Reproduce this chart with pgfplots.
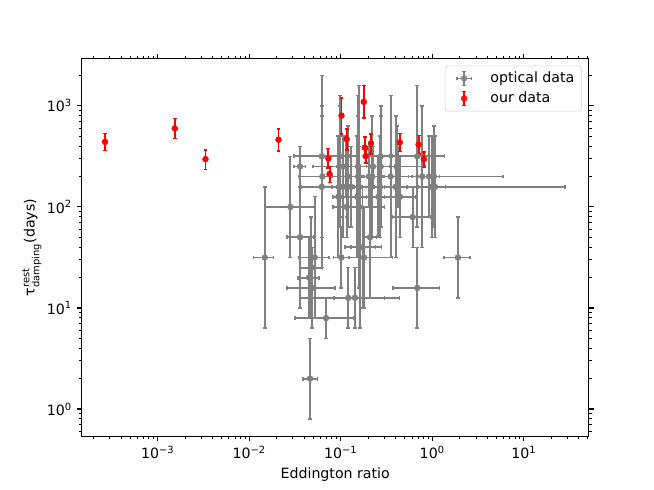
\documentclass[border=0pt]{standalone}
\usepackage{fontspec}
\setmainfont{DejaVu Sans}
\usepackage{amsmath}
\usepackage{pgfplots}
\usepackage{pgfplotstable}
\pgfplotsset{compat=1.18}
\definecolor{mplgray}{HTML}{808080}
\definecolor{mplred}{HTML}{FF0000}
\definecolor{legedge}{HTML}{CCCCCC}

\pgfplotstableread{
x y xlo xhi ylo yhi
0.0148 31.6 0.0112 0.0185 6.31 158
0.0282 100 0.0148 0.0527 31.6 316
0.036 251 0.031 0.041 158 398
0.036 50.1 0.0258 0.0503 10 251
0.045 20 0.0342 0.058 7.94 50.1
0.0478 25.1 0.036 0.063 7.94 79.4
0.052 31.6 0.035 0.0745 7.94 126
0.049 15.8 0.0258 0.0868 6.31 39.8
0.0462 2.0 0.0388 0.0557 0.794 5.01
0.0692 7.94 0.0317 0.1396 5.01 12.6
0.121 12.6 0.0845 0.436 6.31 25.1
0.143 12.6 0.0354 0.30 6.31 25.1
0.1016 31.6 0.083 0.123 15.8 63.1
0.1795 31.6 0.123 0.366 10 100
0.163 39.8 0.111 0.24 6.31 251
0.173 39.8 0.13 0.28 10 158
0.209 50.1 0.18 0.247 12.6 200
0.61 79.4 0.37 0.95 39.8 158
0.687 15.8 0.372 1.2 6.31 39.8
1.905 31.6 1.34 2.58 12.6 79.4
0.0621 316 0.031 0.124 50.1 1995
0.063 200 0.0348 0.114 50.1 794
0.0621 158 0.0366 0.105 25.1 1000
0.0975 316 0.06 0.16 79.4 1259
0.0975 251 0.05 0.19 63.1 1000
0.094 126 0.082 0.108 31.6 501
0.116 158 0.09 0.15 79.4 316
0.116 100 0.081 0.166 50.1 200
0.119 200 0.08 0.18 63.1 631
0.114 251 0.09 0.145 126 501
0.152 126 0.12 0.19 31.6 501
0.158 158 0.11 0.23 15.8 1585
0.158 100 0.083 0.302 25.1 398
0.155 200 0.12 0.2 31.6 1259
0.204 200 0.16 0.26 100 398
0.221 200 0.17 0.29 50.1 794
0.225 251 0.12 0.42 158 398
0.269 158 0.2 0.36 50.1 501
0.273 251 0.22 0.34 63.1 1000
0.258 126 0.101 0.658 50.1 316
0.273 316 0.2 0.37 126 794
0.351 200 0.28 0.44 31.6 1259
0.398 158 0.3 0.53 31.6 794
0.408 251 0.2 0.83 100 631
0.42 200 0.3 0.6 100 398
0.444 126 0.3 0.658 50.1 316
0.685 316 0.343 1.365 63.1 1585
0.778 200 0.55 1.1 39.8 1000
0.92 200 0.7 1.2 79.4 501
1.04 200 0.19 5.94 63.1 631
0.984 158 0.7 1.4 50.1 501
1.07 158 0.037 28.3 50.1 501
0.155 251 0.11 0.22 79.4 794
0.13 158 0.1 0.17 63.1 398
0.106 158 0.08 0.14 50.1 501
}\optical

\pgfplotstableread{
x y ylo yhi
0.000266 440 361 529
0.00154 597 475 745
0.00333 297 233 367
0.0209 462 359 589
0.0733 301 242 379
0.0755 212 174 251
0.102 800 527 1200
0.1785 1095 757 1596
0.116 468 367 589
0.183 386 308 490
0.187 318 271 373
0.214 425 335 525
0.442 434 353 529
0.709 415 333 509
0.81 296 245 348
}\ours

\begin{document}
\begin{tikzpicture}
\begin{axis}[
  scale only axis, width=365pt, height=271.7pt,
  xmode=log, ymode=log, log basis x=10, log basis y=10,
  xmin=1.48e-4, xmax=51.2, ymin=0.54, ymax=2925,
  font=\fontsize{10.2}{12.2}\selectfont,
  xtick={1e-3,1e-2,1e-1,1,10},
  xticklabels={10\textsuperscript{−3},10\textsuperscript{−2},10\textsuperscript{−1},10\textsuperscript{0},10\textsuperscript{1}},
  minor xtick={2e-4,3e-4,4e-4,5e-4,6e-4,7e-4,8e-4,9e-4,
    2e-3,3e-3,4e-3,5e-3,6e-3,7e-3,8e-3,9e-3,
    2e-2,3e-2,4e-2,5e-2,6e-2,7e-2,8e-2,9e-2,
    0.2,0.3,0.4,0.5,0.6,0.7,0.8,0.9,
    2,3,4,5,6,7,8,9,20,30,40,50},
  ytick={1,10,100,1000},
  yticklabels={10\textsuperscript{0},10\textsuperscript{1},10\textsuperscript{2},10\textsuperscript{3}},
  minor ytick={0.6,0.7,0.8,0.9,2,3,4,5,6,7,8,9,20,30,40,50,60,70,80,90,
    200,300,400,500,600,700,800,900,2000},
  tick align=outside, tick pos=both,
  major tick length=3.6pt, minor tick length=2.05pt,
  every major tick/.append style={line width=0.8pt, black},
  every minor tick/.append style={line width=0.6pt, black},
  axis line style={line width=0.8pt},
  xlabel={Eddington ratio},
  ylabel={τ$^{\text{rest}}_{\text{damping}}$(days)},
  ylabel style={yshift=-3pt},
  legend style={at={(0.986,0.982)}, anchor=north east, draw=legedge,
    rounded corners=2pt, fill=white, fill opacity=0.8, draw opacity=1, text opacity=1,
    inner xsep=3.5pt, inner ysep=3pt, row sep=2.2pt,
    nodes={inner sep=1.5pt}},
  legend cell align=left,
]
\coordinate (sw) at (rel axis cs:0,0);
\addplot[only marks, mark=*, mark size=2.1pt, color=mplgray,
  mark options={fill=mplgray, draw=mplgray},
  legend image code/.code={
    \path[draw=none, fill=none] (0pt,0pt) rectangle (27.6pt,0.1pt);
    \draw[mplgray, line width=1.4pt] (5.0pt,0pt) -- (15.4pt,0pt);
    \draw[mplgray, line width=1.4pt] (10.2pt,-5pt) -- (10.2pt,5pt);
    \draw[mplgray, line width=1pt] (5.0pt,-1.4pt) -- (5.0pt,1.4pt);
    \draw[mplgray, line width=1pt] (15.4pt,-1.4pt) -- (15.4pt,1.4pt);
    \draw[mplgray, line width=1pt] (8.8pt,-5pt) -- (11.6pt,-5pt);
    \draw[mplgray, line width=1pt] (8.8pt,5pt) -- (11.6pt,5pt);
    \fill[mplgray] (10.2pt,0pt) circle (2.1pt);
  },
  error bars/.cd, x dir=both, x explicit, y dir=both, y explicit,
  error bar style={line width=1.4pt, color=mplgray},
  error mark options={rotate=90, line width=1pt, mark size=1.4pt, color=mplgray}]
  table[x=x, y=y,
    x error plus expr=\thisrow{xhi}-\thisrow{x},
    x error minus expr=\thisrow{x}-\thisrow{xlo},
    y error plus expr=\thisrow{yhi}-\thisrow{y},
    y error minus expr=\thisrow{y}-\thisrow{ylo}] {\optical};
\addlegendentry{optical data}
\addplot[only marks, mark=*, mark size=2.1pt, color=mplred,
  mark options={fill=mplred, draw=mplred},
  legend image code/.code={
    \path[draw=none, fill=none] (0pt,0pt) rectangle (27.6pt,0.1pt);
    \draw[mplred, line width=1.4pt] (10.2pt,-5pt) -- (10.2pt,5pt);
    \draw[mplred, line width=1pt] (8.8pt,-5pt) -- (11.6pt,-5pt);
    \draw[mplred, line width=1pt] (8.8pt,5pt) -- (11.6pt,5pt);
    \fill[mplred] (10.2pt,0pt) circle (2.1pt);
  },
  error bars/.cd, y dir=both, y explicit,
  error bar style={line width=1.4pt, color=mplred},
  error mark options={rotate=90, line width=1pt, mark size=1.4pt, color=mplred}]
  table[x=x, y=y,
    y error plus expr=\thisrow{yhi}-\thisrow{y},
    y error minus expr=\thisrow{y}-\thisrow{ylo}] {\ours};
\addlegendentry{our data}
\end{axis}
\pgfresetboundingbox
\path (sw) ++(-58.86pt,-38.81pt) rectangle ++(470.88pt,352.8pt);
\end{tikzpicture}
\end{document}
